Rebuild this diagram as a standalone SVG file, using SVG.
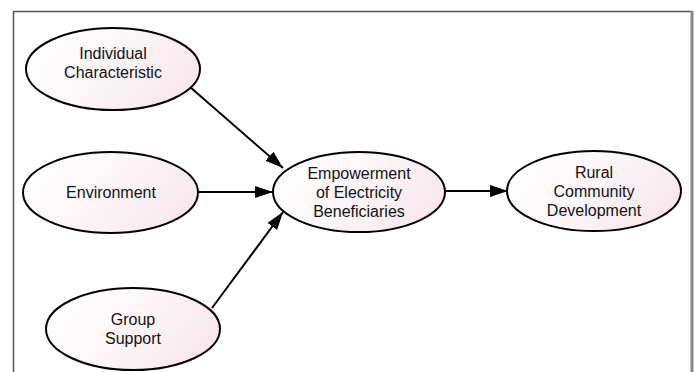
<svg xmlns="http://www.w3.org/2000/svg" width="694" height="372" viewBox="0 0 694 372">
<defs>
<linearGradient id="fill" x1="0" y1="0.3" x2="1" y2="0.7">
<stop offset="0" stop-color="#ffffff"/>
<stop offset="0.5" stop-color="#fcf5f7"/>
<stop offset="1" stop-color="#f7e6ec"/>
</linearGradient>
<marker id="arrow" viewBox="0 0 18 12" refX="18" refY="6" markerWidth="18" markerHeight="12" markerUnits="userSpaceOnUse" orient="auto">
<path d="M0,0 L18,6 L0,12 Z" fill="#000"/>
</marker>
<style>
.node ellipse{fill:url(#fill);stroke:#000;stroke-width:2}
.node text{font-family:"Liberation Sans",Arial,sans-serif;font-size:16px;fill:#111;text-anchor:middle}
.edge{stroke:#000;stroke-width:2;fill:none;marker-end:url(#arrow)}
</style>
</defs>
<rect width="694" height="372" fill="#fff"/>
<g id="frame">
<line x1="13" y1="11.5" x2="692" y2="11.5" stroke="#555" stroke-width="1.5"/>
<line x1="13.5" y1="11" x2="13.5" y2="372" stroke="#555" stroke-width="1.5"/>
<line x1="692" y1="11" x2="692" y2="372" stroke="#888" stroke-width="3"/>
</g>
<g id="connectors">
<line class="edge" x1="190" y1="87" x2="283" y2="168"/>
<line class="edge" x1="198" y1="192" x2="273" y2="192"/>
<line class="edge" x1="212" y1="308" x2="283" y2="212"/>
<line class="edge" x1="445" y1="191" x2="508" y2="191"/>
</g>
<g id="individual" class="node">
<ellipse cx="113" cy="69" rx="87" ry="41"/>
<text x="113" y="59">Individual</text>
<text x="113" y="78">Characteristic</text>
</g>
<g id="environment" class="node">
<ellipse cx="110.5" cy="192.5" rx="87.5" ry="40.5"/>
<text x="111" y="198">Environment</text>
</g>
<g id="group" class="node">
<ellipse cx="133" cy="329" rx="87" ry="41"/>
<text x="133" y="325">Group</text>
<text x="133" y="344">Support</text>
</g>
<g id="empowerment" class="node">
<ellipse cx="359" cy="192" rx="86" ry="40"/>
<text x="359" y="179">Empowerment</text>
<text x="359" y="198">of Electricity</text>
<text x="359" y="217">Beneficiaries</text>
</g>
<g id="rural" class="node">
<ellipse cx="594" cy="191" rx="87" ry="40"/>
<text x="594" y="178">Rural</text>
<text x="594" y="197">Community</text>
<text x="594" y="216">Development</text>
</g>
</svg>
